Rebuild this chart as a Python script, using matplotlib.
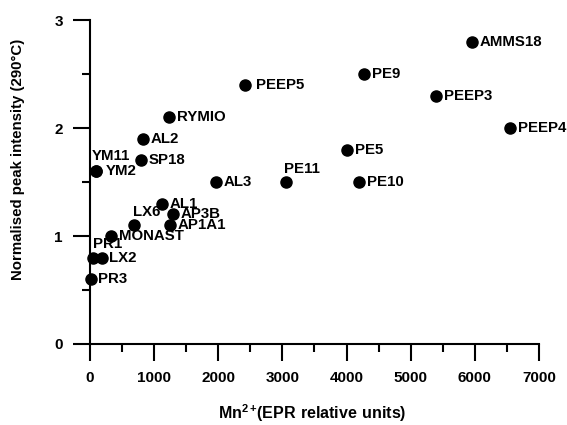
import matplotlib
matplotlib.use('Agg')
import numpy as np
import matplotlib.pyplot as plt
from matplotlib.ticker import MultipleLocator

plt.rcParams['font.family'] = ['Liberation Sans', 'DejaVu Sans']
plt.rcParams['font.weight'] = 'bold'
plt.rcParams['mathtext.fontset'] = 'custom'
plt.rcParams['mathtext.rm'] = 'Liberation Sans:bold'
plt.rcParams['mathtext.bf'] = 'Liberation Sans:bold'

# sample names, Mn2+ EPR signal and normalised peak intensity
names = ['AMMS18', 'PEEP3', 'PEEP4', 'PE9', 'PEEP5', 'RYMIO', 'PE5', 'PE10',
         'PE11', 'AL3', 'AL2', 'SP18', 'YM11', 'YM2', 'AL1', 'AP3B', 'AP1A1',
         'LX6', 'MONAST', 'PR1', 'LX2', 'PR3']
mn = [5960, 5400, 6550, 4270, 2420, 1230, 4010, 4200,
      3050, 1960, 820, 800, 90, 90, 1120, 1290, 1250,
      690, 330, 40, 180, 10]
peak = [2.8, 2.3, 2.0, 2.5, 2.4, 2.1, 1.8, 1.5,
        1.5, 1.5, 1.9, 1.7, 1.6, 1.6, 1.3, 1.2, 1.1,
        1.1, 1.0, 0.8, 0.8, 0.6]

# label offsets in points (dx, dy, ha, va)
right = (5.5, 0, 'left', 'center')
offsets = {'PEEP5': (8, 0, 'left', 'center'),
           'YM2': (7, 0, 'left', 'center'),
           'PE11': (-1.5, 4.5, 'left', 'bottom'),
           'YM11': (-3, 6, 'left', 'bottom'),
           'PR1': (0, 4.5, 'left', 'bottom'),
           'LX6': (-1, 4.5, 'left', 'bottom')}

fig = plt.figure(figsize=(5.67, 4.25), dpi=100)
ax = fig.add_axes([0.1587, 0.1906, 0.7919, 0.7623])

ax.scatter(mn, peak, s=64, color='black', zorder=3, clip_on=False)
for n, x, y in zip(names, mn, peak):
    dx, dy, ha, va = offsets.get(n, right)
    ax.annotate(n, (x, y), xytext=(dx, dy), textcoords='offset points',
                ha=ha, va=va, fontsize=10.8, fontweight='bold')

ax.set_xlim(0, 7000)
ax.set_ylim(0, 3)
ax.xaxis.set_major_locator(MultipleLocator(1000))
ax.xaxis.set_minor_locator(MultipleLocator(500))
ax.yaxis.set_major_locator(MultipleLocator(1))
ax.yaxis.set_minor_locator(MultipleLocator(0.5))

for s in ['top', 'right']:
    ax.spines[s].set_visible(False)
for s in ['left', 'bottom']:
    ax.spines[s].set_linewidth(1.5)
ax.tick_params(which='major', length=12, width=1.5, pad=7.5, labelsize=11)
ax.tick_params(which='minor', length=6, width=1.5)

ax.set_xlabel(r'$\mathrm{Mn^{2+}\!(EPR\ relative\ units)}$', fontsize=11.5,
              va='center')
ax.xaxis.set_label_coords(0.4955, -0.212)
ax.set_ylabel('Normalised peak intensity (290\u00b0C)', fontsize=10.8,
              fontweight='bold', va='center')
ax.yaxis.set_label_coords(-0.160, 0.571)

plt.savefig('out.png', dpi=100)
